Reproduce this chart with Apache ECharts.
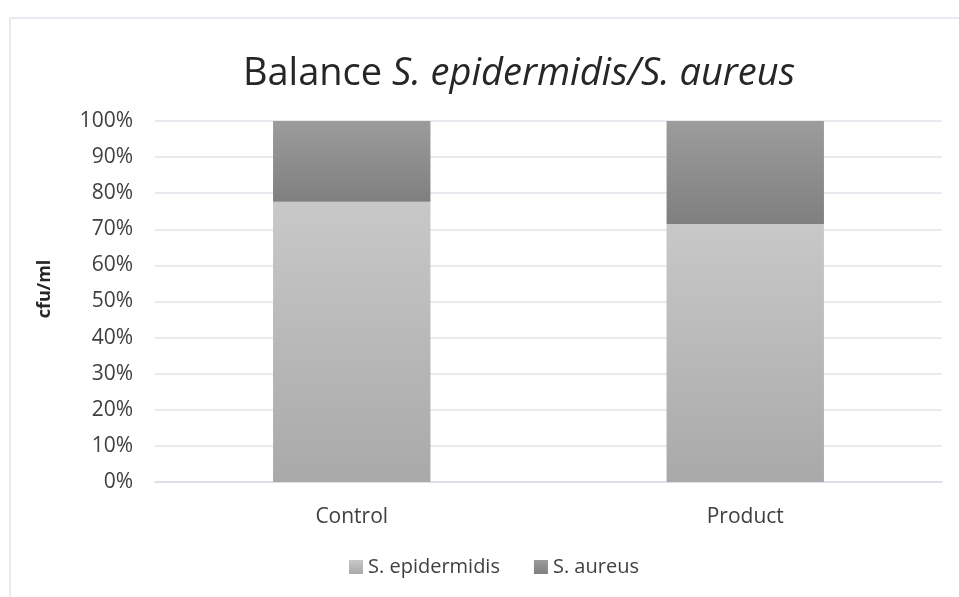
<!DOCTYPE html>
<html><head><meta charset="utf-8">
<script src="https://cdn.jsdelivr.net/npm/echarts@6/dist/echarts.min.js"></script>
<style>html,body{margin:0;padding:0;background:#fff}#c{width:959px;height:597px}</style>
</head><body><div id="c"></div>
<script>
const categories = ['Control', 'Product'];
const epidermidis = [77.6, 71.5];
const aureus = [22.4, 28.5];
const yTicks = [0, 10, 20, 30, 40, 50, 60, 70, 80, 90, 100];

const FONT = '"Open Sans", "Liberation Sans", sans-serif';
const chart = echarts.init(document.getElementById('c'), null, {renderer: 'canvas'});
function grad(top, bottom) {
  return new echarts.graphic.LinearGradient(0, 0, 0, 1, [
    {offset: 0, color: top}, {offset: 1, color: bottom}
  ]);
}
chart.setOption({
  animation: false,
  backgroundColor: '#fff',
  graphic: [{
    type: 'rect', left: 7.5, top: 15.5, silent: true,
    shape: {width: 1000, height: 700},
    style: {fill: 'none', stroke: '#dfe3ec', lineWidth: 1.5}
  }, {
    type: 'text', x: 45, y: 289, rotation: Math.PI / 2, silent: true,
    style: {text: 'cfu/ml', fontFamily: FONT, fontSize: 18, fontWeight: 'bold',
      fill: '#262626', align: 'center', verticalAlign: 'middle'}
  }, {
    type: 'text', x: 519, y: 74, silent: true,
    style: {
      text: '{r|Balance }{i|S. epidermidis/S. aureus}',
      align: 'center', verticalAlign: 'middle',
      rich: {
        r: {fontFamily: FONT, fontSize: 38, fill: '#262626'},
        i: {fontFamily: FONT, fontSize: 38, fontStyle: 'italic', fill: '#262626'}
      }
    }
  }],
  grid: {left: 155, right: 17, top: 121, bottom: 115, containLabel: false},
  legend: {
    bottom: 15, left: 344, itemWidth: 14, itemHeight: 14, itemGap: 34,
    icon: 'rect',
    textStyle: {fontFamily: FONT, fontSize: 20, color: '#404040'},
    data: ['S. epidermidis', 'S. aureus']
  },
  xAxis: {
    type: 'category', data: categories,
    axisLine: {lineStyle: {color: '#d9dde6', width: 1.5}},
    axisTick: {show: false},
    axisLabel: {fontFamily: FONT, fontSize: 21, color: '#404040', margin: 25}
  },
  yAxis: {
    type: 'value', min: 0, max: 100, interval: 10,
    axisLine: {show: false}, axisTick: {show: false},
    splitLine: {lineStyle: {color: '#e0e3ea', width: 1.5}},
    axisLabel: {fontFamily: FONT, fontSize: 21, color: '#404040', margin: 22,
      formatter: v => yTicks.includes(v) ? v + '%' : ''}
  },
  series: [
    {name: 'S. epidermidis', type: 'bar', stack: 's', barWidth: '40%', data: epidermidis,
     itemStyle: {color: grad('#c8c8c8', '#a9a9a9')}},
    {name: 'S. aureus', type: 'bar', stack: 's', barWidth: '40%', data: aureus,
     itemStyle: {color: grad('#9c9c9c', '#7f7f7f')}}
  ]
});
</script></body></html>
